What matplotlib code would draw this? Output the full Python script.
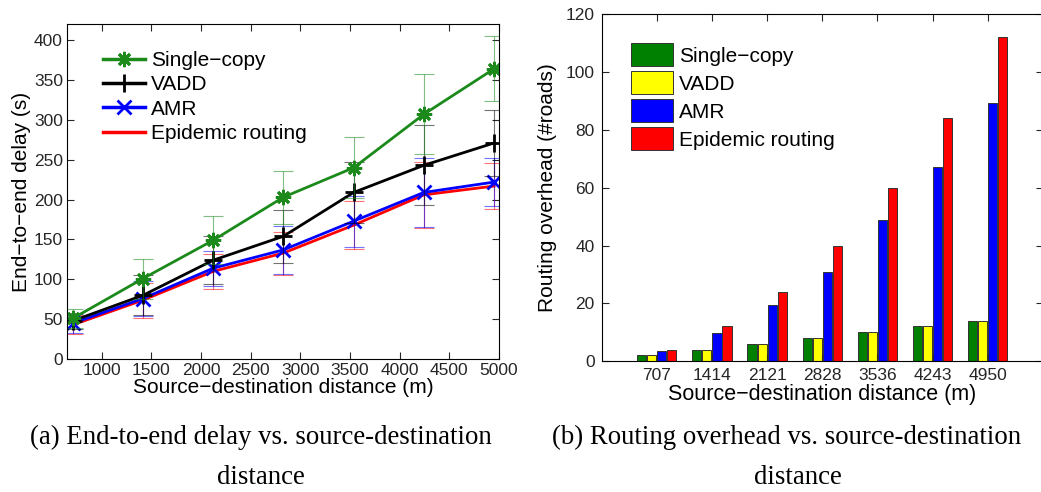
import numpy as np
import matplotlib.pyplot as plt
from matplotlib.lines import Line2D

# ---- data ----
dist = [707, 1414, 2121, 2828, 3536, 4243, 4950]
dist_labels = ["707", "1414", "2121", "2828", "3536", "4243", "4950"]
series = ["Single\u2212copy", "VADD", "AMR", "Epidemic routing"]

delay_single = [51, 101, 149, 203, 240, 307, 364]
delay_vadd = [48, 80, 124, 154, 209, 243, 271]
delay_amr = [45, 76, 114, 137, 173, 209, 222]
delay_epi = [43, 74, 110, 133, 168, 206, 217]

err_single = [12, 25, 30, 33, 38, 50, 41]
err_vadd = [10, 25, 30, 33, 38, 50, 41]
err_amr = [12, 22, 22, 30, 32, 43, 30]
err_epi = [12, 22, 22, 27, 30, 41, 29]

ovh_single = [2, 4, 6, 8, 10, 12, 14]
ovh_vadd = [2, 4, 6, 8, 10, 12, 14]
ovh_amr = [3.5, 9.7, 19.3, 31, 48.7, 67.3, 89.3]
ovh_epi = [4, 12, 24, 40, 60, 84, 112]

plt.rcParams['font.family'] = ['Liberation Sans', 'DejaVu Sans']

fig = plt.figure(figsize=(10.41, 4.92), dpi=100)

# ---- (a) delay ----
ax1 = fig.add_axes([0.0644, 0.270, 0.415, 0.681])
line_cols = ['#1b8a1b', 'black', 'blue', 'red']
markers = [(8, 2, 0), '+', 'x', None]
msizes = [11, 13, 10, 0]
delays = [delay_single, delay_vadd, delay_amr, delay_epi]
errs = [err_single, err_vadd, err_amr, err_epi]
for i in [3, 2, 1, 0]:
    # thin, faint error bars
    ax1.errorbar(dist, delays[i], yerr=errs[i], fmt='none',
                 ecolor=line_cols[i], elinewidth=0.8, capsize=7,
                 capthick=0.8, alpha=0.55)
    ax1.plot(dist, delays[i], color=line_cols[i], lw=2, marker=markers[i],
             ms=msizes[i], mew=2)
handles = [Line2D([], [], color=line_cols[i], lw=2.5, marker=markers[i],
                  ms=msizes[i], mew=2) for i in range(4)]
ax1.legend(handles, series, loc='upper left', frameon=False, fontsize=15,
           handlelength=2.0, handletextpad=0.3, labelspacing=0.25,
           bbox_to_anchor=(0.04, 0.975))
ax1.set_xlim(650, 5000)
ax1.set_ylim(0, 420)
ax1.set_xticks(range(1000, 5001, 500))
ax1.set_yticks(range(0, 401, 50))
ax1.set_xlabel("Source\u2212destination distance (m)", fontsize=15, labelpad=0)
ax1.set_ylabel("End\u2212to\u2212end delay (s)", fontsize=15, labelpad=2)
ax1.tick_params(direction='in', top=True, right=True, labelsize=12.5, length=5,
                colors='#262626', pad=3)

# ---- (b) overhead ----
ax2 = fig.add_axes([0.578, 0.266, 0.4237, 0.705])
x = np.arange(1, len(dist) + 1)
bar_cols = ['green', 'yellow', 'blue', 'red']
ovh = [ovh_single, ovh_vadd, ovh_amr, ovh_epi]
w = 0.165
for i in range(4):
    ax2.bar(x + (i - 1.5) * 0.182, ovh[i], width=w, color=bar_cols[i],
            edgecolor='#333333', linewidth=0.7, label=series[i])
ax2.legend(loc='upper left', fontsize=15, frameon=False, handlelength=2.0,
           handleheight=1.3, handletextpad=0.3, labelspacing=0.25,
           bbox_to_anchor=(0.025, 0.97))
ax2.set_xlim(0, 8)
ax2.set_ylim(0, 120)
ax2.set_xticks(x)
ax2.set_xticklabels(dist_labels)
ax2.set_yticks(range(0, 121, 20))
ax2.set_xlabel("Source\u2212destination distance (m)", fontsize=15.5, labelpad=1)
ax2.set_ylabel("Routing overhead (#roads)", fontsize=15, labelpad=6)
ax2.tick_params(direction='in', top=True, right=True, labelsize=12.5, length=5,
                colors='#262626', pad=5)

# ---- captions ----
cap = dict(ha='center', va='center', fontsize=19.3, family='Liberation Serif')
fig.text(0.251, 1 - 437 / 492, "(a) End-to-end delay vs. source-destination", **cap)
fig.text(0.251, 1 - 478 / 492, "distance", **cap)
fig.text(0.756, 1 - 437 / 492, "(b) Routing overhead vs. source-destination", **cap)
fig.text(0.766, 1 - 478 / 492, "distance", **cap)

fig.savefig("out.png", dpi=100)
